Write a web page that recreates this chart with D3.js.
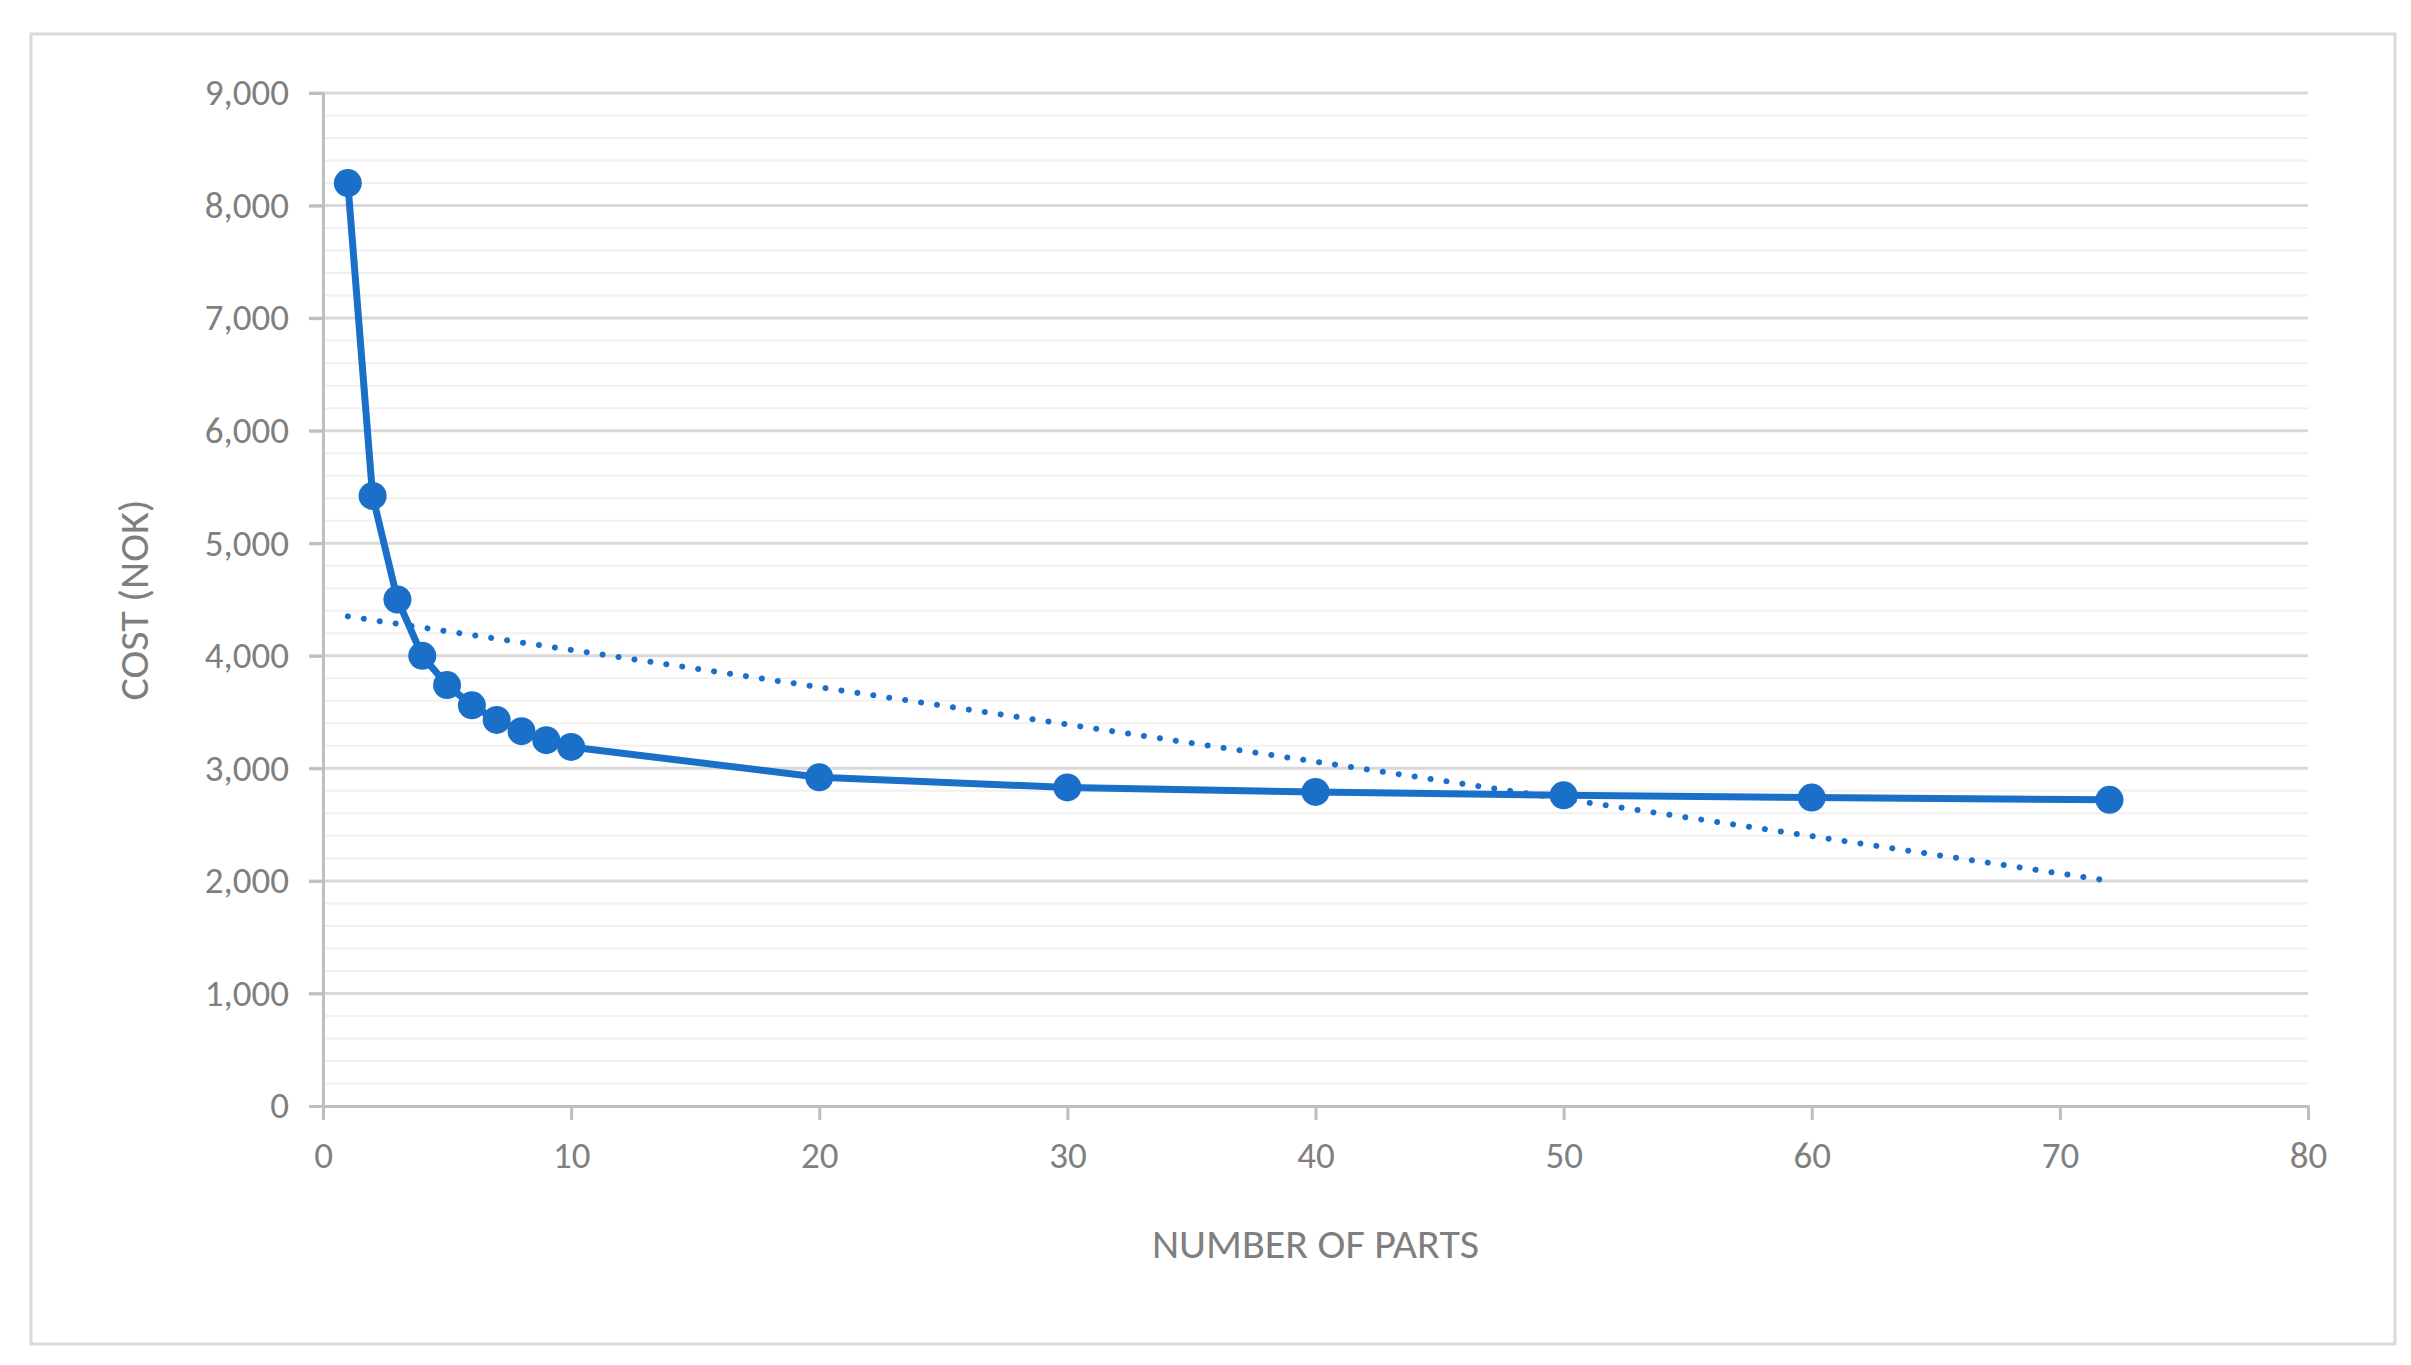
<!DOCTYPE html>
<html><head><meta charset="utf-8">
<script src="https://cdn.jsdelivr.net/npm/d3@7"></script>
<style>body{margin:0;background:#fff;font-family:Calibri,"Open Sans",sans-serif}</style>
</head><body>
<script>
var parts = [1,2,3,4,5,6,7,8,9,10,20,30,40,50,60,72];
var cost = [8200,5420,4500,4000,3740,3560,3430,3330,3250,3190,2920,2830,2790,2760,2740,2720];
var trendX = [1,72];
var trendY = [4350,2000];
var yTicks = [0,1000,2000,3000,4000,5000,6000,7000,8000,9000];
var xTicks = [0,10,20,30,40,50,60,70,80];

var W = 2411, H = 1365;
var svg = d3.select("body").append("svg").attr("width",W).attr("height",H);
svg.append("rect").attr("x",31).attr("y",34).attr("width",2364).attr("height",1310)
  .attr("fill","#fff").attr("stroke","#d9d9d9").attr("stroke-width",3);

var x = d3.scaleLinear().domain([0,80]).range([323,2308]);
var y = d3.scaleLinear().domain([0,9000]).range([1106,93]);
var blue = "#1a70c8";

// minor grid
svg.append("g").selectAll("line").data(d3.range(200,9000,200).filter(function(v){return v%1000;}))
  .enter().append("line").attr("x1",x(0)).attr("x2",x(80))
  .attr("y1",function(d){return y(d);}).attr("y2",function(d){return y(d);})
  .attr("stroke","#f0f0f0").attr("stroke-width",2);
// major grid
svg.append("g").selectAll("line").data(yTicks.slice(1)).enter().append("line")
  .attr("x1",x(0)-14).attr("x2",x(80))
  .attr("y1",function(d){return y(d);}).attr("y2",function(d){return y(d);})
  .attr("stroke","#d9d9d9").attr("stroke-width",3);

var ya = svg.append("g").attr("transform","translate("+x(0)+",0)")
  .call(d3.axisLeft(y).tickValues(yTicks).tickSize(14).tickPadding(20));
var xa = svg.append("g").attr("transform","translate(0,"+y(0)+")")
  .call(d3.axisBottom(x).tickValues(xTicks).tickSize(14).tickPadding(22));
[ya,xa].forEach(function(a){
  a.selectAll("path,line").attr("stroke","#bfbfbf").attr("stroke-width",3);
  a.selectAll("text").attr("fill","#7f7f7f").style("font-size","37px").style("font-family","Calibri,'Open Sans',sans-serif");
});

svg.append("line").attr("x1",x(trendX[0])).attr("y1",y(trendY[0]))
  .attr("x2",x(trendX[1])).attr("y2",y(trendY[1]))
  .attr("stroke",blue).attr("stroke-width",6).attr("stroke-linecap","round")
  .attr("stroke-dasharray","0.1 16");

var pts = parts.map(function(p,i){return [p,cost[i]];});
svg.append("path").datum(pts).attr("fill","none").attr("stroke",blue).attr("stroke-width",7)
  .attr("d",d3.line().x(function(d){return x(d[0]);}).y(function(d){return y(d[1]);}));
svg.append("g").selectAll("circle").data(pts).enter().append("circle")
  .attr("cx",function(d){return x(d[0]);}).attr("cy",function(d){return y(d[1]);})
  .attr("r",14).attr("fill",blue);

svg.append("text").attr("x",(x(0)+x(80))/2).attr("y",1258).attr("text-anchor","middle")
  .attr("fill","#7f7f7f").style("font-size","42px").text("NUMBER OF PARTS");
svg.append("text").attr("transform","translate(148,600) rotate(-90)").attr("text-anchor","middle")
  .attr("fill","#7f7f7f").style("font-size","42px").text("COST (NOK)");
</script>
</body></html>
